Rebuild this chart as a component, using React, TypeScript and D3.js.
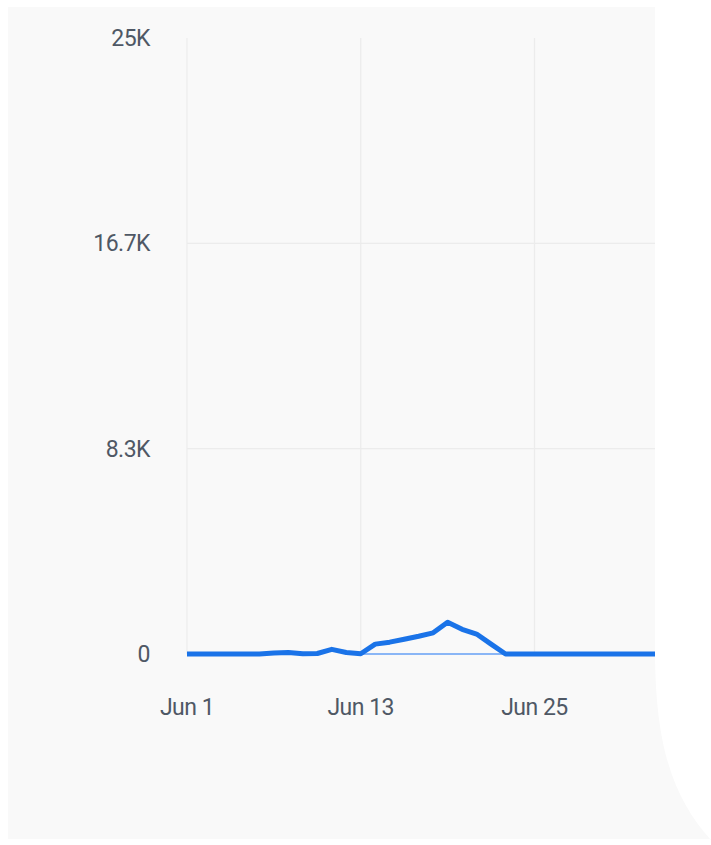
import React from "react";
import * as d3 from "d3";

const dates: string[] = [
  "2024-06-01","2024-06-02","2024-06-03","2024-06-04","2024-06-05","2024-06-06",
  "2024-06-07","2024-06-08","2024-06-09","2024-06-10","2024-06-11","2024-06-12",
  "2024-06-13","2024-06-14","2024-06-15","2024-06-16","2024-06-17","2024-06-18",
  "2024-06-19","2024-06-20","2024-06-21","2024-06-22","2024-06-23","2024-06-24",
  "2024-06-25","2024-06-26","2024-06-27","2024-06-28","2024-06-29","2024-06-30",
  "2024-07-01","2024-07-02","2024-07-03","2024-07-04",
];
const mainValues: number[] = [
  0, 0, 0, 0, 0, 0,
  40, 60, 10, 20, 190, 60,
  10, 400, 480, 600, 720, 860,
  1290, 1000, 810, 400, 0, 0,
  0, 0, 0, 0, 0, 0,
  0, 0, 0, 0,
];
// secondary faint baseline series (Jun 13 - Jun 23)
const secondaryDates: string[] = [
  "2024-06-13","2024-06-14","2024-06-15","2024-06-16","2024-06-17","2024-06-18",
  "2024-06-19","2024-06-20","2024-06-21","2024-06-22","2024-06-23",
];
const secondaryValues: number[] = [0, 0, 0, 0, 0, 0, 0, 0, 0, 0, 0];

const yTicks: number[] = [0, 25000 / 3, 50000 / 3, 25000];
const yTickLabels: string[] = ["0", "8.3K", "16.7K", "25K"];
const xTicks: string[] = ["2024-06-01", "2024-06-13", "2024-06-25"];
const xTickLabels: string[] = ["Jun 1", "Jun 13", "Jun 25"];

const parse = d3.timeParse("%Y-%m-%d");

export default function App() {
  const W = 711;
  const H = 845;
  const plotLeft = 187;
  const plotRight = 655;
  const y0 = 654;
  const yTop = 38;

  const x = d3
    .scaleTime()
    .domain([parse("2024-06-01") as Date, parse("2024-06-25") as Date])
    .range([plotLeft, 534.5]);
  const y = d3.scaleLinear().domain([0, 25000]).range([y0, yTop]);

  const mainData = dates.map((d, i) => ({ d: parse(d) as Date, v: mainValues[i] }));
  const secData = secondaryDates.map((d, i) => ({ d: parse(d) as Date, v: secondaryValues[i] }));

  const line = d3
    .line<{ d: Date; v: number }>()
    .x((p) => x(p.d))
    .y((p) => y(p.v));

  const font = "Roboto, 'Liberation Sans', Arial, sans-serif";
  const textColor = "#4f5865";
  const fs = 23;

  const panelPath = `M8,7 L${plotRight},7 L${plotRight},650 C655,750 675,800 711,840 L711,839 L8,839 Z`;

  return (
    <svg
      width={W}
      height={H}
      style={{ position: "absolute", left: 0, top: 0, display: "block" }}
    >
      <rect x={0} y={0} width={W} height={H} fill="#ffffff" />
      <path d={panelPath} fill="#f9f9f9" />
      <defs>
        <clipPath id="plotclip">
          <rect x={plotLeft - 4} y={0} width={plotRight - plotLeft + 4} height={H} />
        </clipPath>
      </defs>
      {yTicks.slice(1, 3).map((t, i) => (
        <line
          key={"hg" + i}
          x1={plotLeft}
          x2={plotRight}
          y1={y(t)}
          y2={y(t)}
          stroke="#ececec"
          strokeWidth={1.2}
        />
      ))}
      {xTicks.map((t, i) => (
        <line
          key={"vg" + i}
          x1={x(parse(t) as Date)}
          x2={x(parse(t) as Date)}
          y1={yTop}
          y2={y0}
          stroke="#ececec"
          strokeWidth={1.2}
        />
      ))}
      {yTicks.map((t, i) => (
        <text
          key={"yl" + i}
          x={150}
          y={y(t)}
          dy="0.35em"
          textAnchor="end"
          fontFamily={font}
          fontSize={fs}
          fill={textColor}
          letterSpacing={-0.5}
        >
          {yTickLabels[i]}
        </text>
      ))}
      {xTicks.map((t, i) => (
        <text
          key={"xl" + i}
          x={x(parse(t) as Date)}
          y={715}
          textAnchor="middle"
          fontFamily={font}
          fontSize={fs}
          fill={textColor}
          letterSpacing={-0.5}
        >
          {xTickLabels[i]}
        </text>
      ))}
      <g clipPath="url(#plotclip)">
        <path
          d={line(secData) || ""}
          fill="none"
          stroke="#8ab6f6"
          strokeWidth={2}
        />
        <path
          d={line(mainData) || ""}
          fill="none"
          stroke="#1a73e8"
          strokeWidth={5}
          strokeLinejoin="round"
          strokeLinecap="butt"
        />
      </g>
    </svg>
  );
}
